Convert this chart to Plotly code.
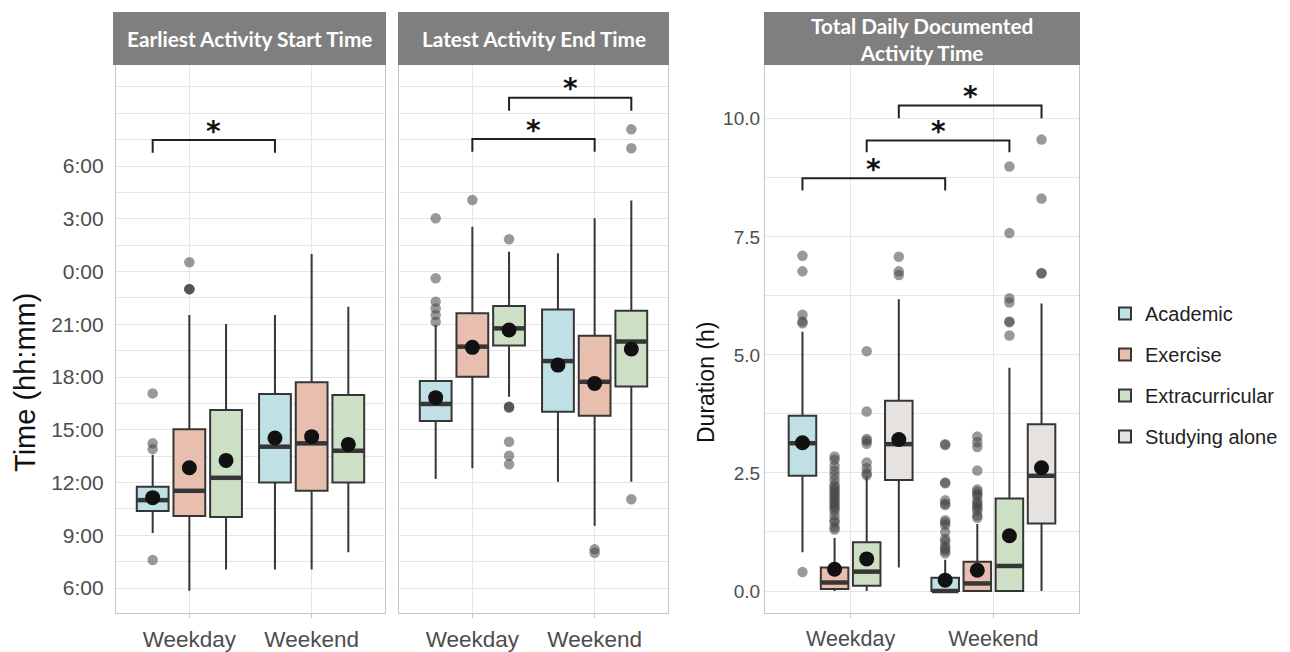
import plotly.graph_objects as go

# page body has an 8px margin; figure is sized so it fills the 1290x652 window
OFF = 8
W, H = 1282, 644

# ---------------- data ----------------
categories = ["Weekday", "Weekend"]
activities = ["Academic", "Exercise", "Extracurricular", "Studying alone"]
fill_colors = {
    "Academic": "#bfe0e5",
    "Exercise": "#e8bfae",
    "Extracurricular": "#cde0c6",
    "Studying alone": "#e6e2df",
}

time_tickvals = [6, 9, 12, 15, 18, 21, 24, 27, 30]
time_ticktext = ["6:00", "9:00", "12:00", "15:00", "18:00", "21:00", "0:00", "3:00", "6:00"]
dur_tickvals = [0, 2.5, 5, 7.5, 10]
dur_ticktext = ["0.0", "2.5", "5.0", "7.5", "10.0"]

# Panel 1: Earliest activity start time (hours, >24 = next day)
start_q1 = {"Academic": [10.38, 12.0], "Exercise": [10.1, 11.53], "Extracurricular": [10.04, 12.0]}
start_median = {"Academic": [11.0, 14.04], "Exercise": [11.53, 14.23], "Extracurricular": [12.27, 13.81]}
start_q3 = {"Academic": [11.76, 17.04], "Exercise": [15.03, 17.7], "Extracurricular": [16.13, 16.98]}
start_lower = {"Academic": [9.13, 7.06], "Exercise": [5.85, 7.06], "Extracurricular": [7.06, 8.03]}
start_upper = {"Academic": [13.57, 21.53], "Exercise": [21.53, 25.0], "Extracurricular": [21.02, 22.0]}
start_mean = {"Academic": [11.14, 14.53], "Exercise": [12.84, 14.61], "Extracurricular": [13.26, 14.17]}
start_outliers = {
    "Academic": [[17.07, 14.23, 13.9, 7.59], []],
    "Exercise": [[24.53, 23.0, 23.0, 23.0], []],
    "Extracurricular": [[], []],
}

# Panel 2: Latest activity end time
end_q1 = {"Academic": [15.5, 16.03], "Exercise": [18.02, 15.8], "Extracurricular": [19.79, 17.46]}
end_median = {"Academic": [16.47, 18.91], "Exercise": [19.73, 17.73], "Extracurricular": [20.77, 20.02]}
end_q3 = {"Academic": [17.77, 21.85], "Exercise": [21.63, 20.35], "Extracurricular": [22.04, 21.77]}
end_lower = {"Academic": [12.2, 12.05], "Exercise": [12.81, 9.54], "Extracurricular": [16.88, 12.05]}
end_upper = {"Academic": [20.96, 25.04], "Exercise": [26.55, 27.03], "Extracurricular": [25.13, 28.04]}
end_mean = {"Academic": [16.83, 18.68], "Exercise": [19.69, 17.64], "Extracurricular": [20.68, 19.6]}
end_outliers = {
    "Academic": [[27.03, 23.62, 22.29, 21.9, 21.53, 21.15], []],
    "Exercise": [[28.07], [8.2, 8.0]],
    "Extracurricular": [[25.84, 16.31, 16.31, 16.25, 14.32, 13.53, 13.04], [32.09, 31.01, 11.05]],
}

# Panel 3: Total daily documented activity time (h)
dur_q1 = {"Academic": [2.44, 0.0], "Exercise": [0.04, 0.0], "Extracurricular": [0.11, 0.0], "Studying alone": [2.35, 1.43]}
dur_median = {"Academic": [3.13, 0.0], "Exercise": [0.18, 0.16], "Extracurricular": [0.41, 0.53], "Studying alone": [3.11, 2.44]}
dur_q3 = {"Academic": [3.71, 0.28], "Exercise": [0.5, 0.62], "Extracurricular": [1.03, 1.96], "Studying alone": [4.03, 3.53]}
dur_lower = {"Academic": [0.82, 0.0], "Exercise": [0.0, 0.0], "Extracurricular": [0.0, 0.0], "Studying alone": [0.5, 0.0]}
dur_upper = {"Academic": [5.49, 0.66], "Exercise": [1.12, 1.42], "Extracurricular": [2.42, 4.73], "Studying alone": [6.18, 6.09]}
dur_mean = {"Academic": [3.14, 0.23], "Exercise": [0.46, 0.44], "Extracurricular": [0.68, 1.17], "Studying alone": [3.21, 2.61]}
dur_outliers = {
    "Academic": [[0.40, 5.67, 5.71, 5.85, 6.77, 7.10],
                 [3.11, 3.09, 2.3, 2.28, 1.92, 1.85, 1.82, 1.5, 1.45, 1.4, 1.25, 1.1, 1.05, 0.95, 0.9, 0.85, 0.8]],
    "Exercise": [[2.85, 2.78, 2.65, 2.55, 2.45, 2.35, 2.25, 2.2, 2.15, 2.1, 2.05, 2.0, 1.95, 1.9,
                  1.85, 1.8, 1.75, 1.7, 1.6, 1.5, 1.45, 1.35, 1.3],
                 [3.27, 3.15, 3.05, 2.55, 2.15, 2.1, 2.05, 2.0, 1.9, 1.85, 1.8, 1.75, 1.7, 1.6, 1.55]],
    "Extracurricular": [[2.45, 2.5, 2.6, 2.72, 3.12, 3.18, 3.22, 3.8, 5.08],
                        [5.41, 5.69, 5.71, 6.11, 6.2, 7.58, 8.99]],
    "Studying alone": [[6.69, 6.77, 7.08], [6.73, 6.73, 8.31, 9.56]],
}

# significance brackets: (activity, bar height, leg end height), Weekday vs Weekend
start_brackets = [("Academic", 31.48, 30.76)]
end_brackets = [("Exercise", 31.54, 30.82), ("Extracurricular", 33.89, 33.15)]
dur_brackets = [("Academic", 8.74, 8.48), ("Extracurricular", 9.54, 9.29), ("Studying alone", 10.28, 10.01)]

panel_titles = ["Earliest Activity Start Time", "Latest Activity End Time",
                "Total Daily Documented<br>Activity Time"]

# ---------------- layout geometry ----------------
def px_x(p):
    return (p - OFF) / W

def px_y(p):
    return 1 - (p - OFF) / H

x_domains = [[px_x(116), px_x(385)], [px_x(399), px_x(668)], [px_x(765), px_x(1079)]]
strip_x = [[px_x(113), px_x(386)], [px_x(398), px_x(669)], [px_x(764), px_x(1080)]]
y_domain = [px_y(613), px_y(65)]

LINE = "#363636"
OUT_COLOR = "rgba(70,70,70,0.55)"

fig = go.Figure()

panels = [
    dict(acts=activities[:3], q1=start_q1, med=start_median, q3=start_q3, lo=start_lower,
         hi=start_upper, mean=start_mean, out=start_outliers, br=start_brackets,
         dodge=0.30, width=0.26, xa="x", ya="y", legend=False),
    dict(acts=activities[:3], q1=end_q1, med=end_median, q3=end_q3, lo=end_lower,
         hi=end_upper, mean=end_mean, out=end_outliers, br=end_brackets,
         dodge=0.30, width=0.26, xa="x2", ya="y2", legend=False),
    dict(acts=activities, q1=dur_q1, med=dur_median, q3=dur_q3, lo=dur_lower,
         hi=dur_upper, mean=dur_mean, out=dur_outliers, br=dur_brackets,
         dodge=0.225, width=0.193, xa="x3", ya="y3", legend=True),
]

annotations = []
shapes = []

for pi, p in enumerate(panels):
    n = len(p["acts"])
    positions = {}
    for ai, act in enumerate(p["acts"]):
        off = (ai - (n - 1) / 2) * p["dodge"]
        pos = [ci + off for ci in range(len(categories))]
        positions[act] = pos
        fig.add_trace(go.Box(
            x=pos, q1=p["q1"][act], median=p["med"][act], q3=p["q3"][act],
            lowerfence=p["lo"][act], upperfence=p["hi"][act],
            orientation="v", width=p["width"], whiskerwidth=0,
            fillcolor=fill_colors[act], line=dict(color=LINE, width=2),
            boxpoints=False, name=act, legendgroup=act, showlegend=p["legend"],
            xaxis=p["xa"], yaxis=p["ya"], hoverinfo="skip",
        ))
    for act in p["acts"]:
        pos = positions[act]
        hw = p["width"] / 2
        mx, my = [], []
        for ci in range(len(categories)):
            mx += [pos[ci] - hw + 0.004, pos[ci] + hw - 0.004, None]
            my += [p["med"][act][ci], p["med"][act][ci], None]
        fig.add_trace(go.Scatter(x=mx, y=my, mode="lines", line=dict(color=LINE, width=4.5),
                                 showlegend=False, xaxis=p["xa"], yaxis=p["ya"], hoverinfo="skip"))
        ox, oy = [], []
        for ci in range(len(categories)):
            for v in p["out"][act][ci]:
                ox.append(pos[ci])
                oy.append(v)
        fig.add_trace(go.Scatter(x=ox, y=oy, mode="markers",
                                 marker=dict(color=OUT_COLOR, size=10.5, line=dict(width=0)),
                                 showlegend=False, xaxis=p["xa"], yaxis=p["ya"], hoverinfo="skip"))
        fig.add_trace(go.Scatter(x=pos, y=p["mean"][act], mode="markers",
                                 marker=dict(color="#111111", size=15, line=dict(width=0)),
                                 showlegend=False, xaxis=p["xa"], yaxis=p["ya"], hoverinfo="skip"))
    # brackets
    for act, top, leg in p["br"]:
        x0, x1 = positions[act][0], positions[act][1]
        fig.add_trace(go.Scatter(x=[x0, x0, x1, x1], y=[leg, top, top, leg], mode="lines",
                                 line=dict(color="#222222", width=2),
                                 showlegend=False, xaxis=p["xa"], yaxis=p["ya"], hoverinfo="skip"))
        annotations.append(dict(x=(x0 + x1) / 2, y=top, xref=p["xa"], yref=p["ya"], text="<b>*</b>",
                                showarrow=False, xanchor="center", yanchor="middle", yshift=9,
                                font=dict(size=28, color="#111111", family="DejaVu Sans")))

    # strip
    shapes.append(dict(type="rect", xref="paper", yref="paper",
                       x0=strip_x[pi][0], x1=strip_x[pi][1],
                       y0=px_y(65), y1=px_y(12), fillcolor="#7f7f7f", line=dict(width=0), layer="above"))
    annotations.append(dict(x=(strip_x[pi][0] + strip_x[pi][1]) / 2, y=px_y(38.5), xref="paper", yref="paper",
                            text="<b>" + panel_titles[pi] + "</b>", showarrow=False,
                            xanchor="center", yanchor="middle",
                            font=dict(size=20.8, color="white", family="Lato"), align="center"))

# axis titles
annotations.append(dict(x=px_x(25), y=px_y(383), xref="paper", yref="paper", text="Time (hh:mm)",
                        textangle=-90, showarrow=False, xanchor="center", yanchor="middle",
                        font=dict(size=29, color="#111111", family="Liberation Sans")))
annotations.append(dict(x=px_x(706), y=px_y(383), xref="paper", yref="paper", text="Duration (h)",
                        textangle=-90, showarrow=False, xanchor="center", yanchor="middle",
                        font=dict(size=23, color="#111111", family="Liberation Sans")))

GRID = "#e6e6e6"
FRAME = "#c6c6c6"

def xaxis_cfg(dom, fs):
    return dict(domain=dom, range=[-0.6, 1.6], tickmode="array", tickvals=list(range(len(categories))),
                ticktext=categories, showgrid=True, gridcolor=GRID, gridwidth=1, zeroline=False,
                showline=True, mirror=True, linecolor=FRAME, linewidth=1.2, ticks="outside",
                ticklen=4, tickcolor=FRAME, tickfont=dict(size=fs, color="#4d4d4d", family="Liberation Sans"),
                ticklabelstandoff=2, fixedrange=True)

time_range = [4.58, 35.75]
dur_range = [-0.466, 11.14]

layout_axes = dict(
    xaxis=xaxis_cfg(x_domains[0], 22.5),
    xaxis2=dict(xaxis_cfg(x_domains[1], 22.5), anchor="y2"),
    xaxis3=dict(xaxis_cfg(x_domains[2], 21.5), anchor="y3"),
    yaxis=dict(domain=y_domain, range=time_range, tickmode="array", tickvals=time_tickvals,
               ticktext=time_ticktext, showgrid=True, gridcolor=GRID, zeroline=False,
               showline=True, mirror=True, linecolor=FRAME, linewidth=1.2,
               tickfont=dict(size=21, color="#4d4d4d", family="Liberation Sans"), ticklabelstandoff=7,
               ticks="", minor=dict(tickmode="linear", tick0=0, dtick=1.5, showgrid=True, gridcolor=GRID, gridwidth=1)),
    yaxis2=dict(domain=y_domain, range=time_range, anchor="x2", tickmode="array", tickvals=time_tickvals,
                showticklabels=False, showgrid=True, gridcolor=GRID, zeroline=False,
                showline=True, mirror=True, linecolor=FRAME, linewidth=1.2, ticks="",
                minor=dict(tickmode="linear", tick0=0, dtick=1.5, showgrid=True, gridcolor=GRID, gridwidth=1)),
    yaxis3=dict(domain=y_domain, range=dur_range, anchor="x3", tickmode="array", tickvals=dur_tickvals,
                ticktext=dur_ticktext, showgrid=True, gridcolor=GRID, zeroline=False,
                showline=True, mirror=True, linecolor=FRAME, linewidth=1.2,
                tickfont=dict(size=19, color="#4d4d4d", family="Liberation Sans"), ticks="",
                minor=dict(tickmode="linear", tick0=0, dtick=1.25, showgrid=True, gridcolor=GRID, gridwidth=1)),
)

fig.update_layout(
    width=W, height=H, margin=dict(l=0, r=0, t=0, b=0),
    paper_bgcolor="white", plot_bgcolor="white",
    showlegend=True,
    legend=dict(x=px_x(1105), y=px_y(375), xanchor="left", yanchor="middle",
                font=dict(size=20, color="#222222", family="Liberation Sans"),
                tracegroupgap=12, traceorder="grouped", bgcolor="rgba(0,0,0,0)"),
    annotations=annotations, shapes=shapes,
    **layout_axes,
)

fig.write_html("out.html")
